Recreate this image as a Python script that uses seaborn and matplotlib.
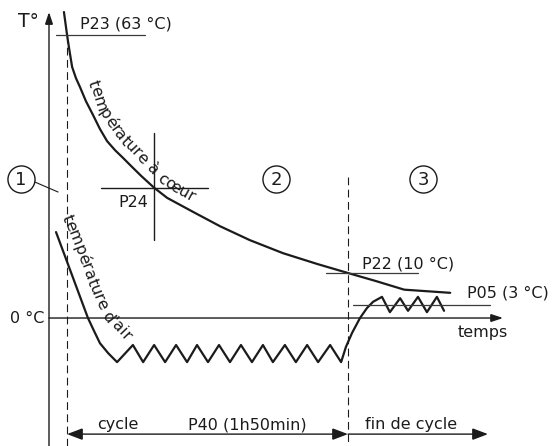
import numpy as np
import pandas as pd
import matplotlib
matplotlib.use("Agg")
import matplotlib.pyplot as plt
import seaborn as sns
from matplotlib.patches import FancyArrowPatch
from matplotlib.font_manager import FontProperties, findfont, get_font

# ---------------------------------------------------------------------------
# Data: time in minutes from the start of the cycle, temperature in °C
# ---------------------------------------------------------------------------
core_t = [-1.2, 0, 0.8, 2.0, 3.5, 5.1, 7.4, 10.2, 12.9, 15.7, 18.8, 21.9,
          24.7, 29.0, 34, 39.2, 49.3, 59.9, 71.6, 84.6, 98, 110, 121, 132, 150]
core_T = [68, 63, 60.0, 55.8, 53.3, 51.3, 48.2, 45.1, 42.0, 39.3, 37.3, 35.6,
          34.0, 31.6, 29, 26.7, 23.6, 20.4, 17.3, 14.4, 12.0, 10, 8.2, 6.3, 5.6]

air_t = [-4.3, 1.2, 6.3, 8.2, 10.6, 12.9, 16.1, 19.6,
         25.8, 29.8, 34.1, 38.4, 42.7, 47.0, 50.9, 55.2, 59.5, 63.8, 68.1,
         72.4, 76.7, 80.6, 85.3, 89.6, 94.0, 98.3, 103.0, 107.3,
         109.2, 111.6, 114.7, 117.4, 119.8, 123.3, 126.4, 130.4, 133.5,
         137.4, 140.9, 144.8, 147.6]
air_T = [19.1, 10.7, 2.9, 0, -2.9, -5.6, -7.8, -9.8,
         -6.0, -9.8, -6.0, -9.8, -6.0, -9.8, -6.0, -9.8, -6.0, -9.8, -6.0,
         -9.8, -6.0, -9.8, -6.0, -9.8, -6.0, -9.8, -6.0, -9.8,
         -6.4, -3.3, 0, 2.2, 3.6, 4.7, 1.3, 4.4, 1.6,
         4.7, 1.3, 4.7, 1.6]

cycle_len = 110            # P40 = 1h50min
p23, p22, p05 = 63, 10, 3  # setpoints in °C
p24_t, p24_T = 34, 29      # core probe point

setpoint_labels = ["P23 (63 °C)", "P22 (10 °C)", "P05 (3 °C)"]
phase_labels = ["1", "2", "3"]
span_labels = ["cycle", "P40 (1h50min)", "fin de cycle"]

# ---------------------------------------------------------------------------
sns.set_theme(style="white")
plt.rcParams["font.family"] = ["DejaVu Sans"]
INK = "#1b1b1b"
FS = 11.5

fig = plt.figure(figsize=(5.53, 4.46), dpi=100)
ax = fig.add_axes([0, 0, 1, 1])
ax.set_xlim(-26.23, 190.25)
ax.set_ylim(-28.44, 70.67)
ax.axis("off")

core = pd.DataFrame({"t": core_t, "T": core_T})
air = pd.DataFrame({"t": air_t, "T": air_T})
sns.lineplot(data=core, x="t", y="T", sort=False, estimator=None,
             color=INK, lw=1.6, ax=ax)
sns.lineplot(data=air, x="t", y="T", sort=False, estimator=None,
             color=INK, lw=1.6, ax=ax)


def arrow(p0, p1, style, lw=1.0):
    ax.add_patch(FancyArrowPatch(p0, p1, arrowstyle=style, mutation_scale=10,
                                 lw=lw, color=INK, shrinkA=0, shrinkB=0,
                                 joinstyle="miter"))


# axes with arrow heads
x_axis_t = -7.05
arrow((x_axis_t, -28.44), (x_axis_t, 68.0), "-|>,head_length=0.72,head_width=0.24")
arrow((x_axis_t, 0), (170.7, 0), "-|>,head_length=0.72,head_width=0.24")

# phase boundaries
ax.plot([0, 0], [p23, -28.44], color=INK, lw=0.8, dashes=(7, 4))
ax.plot([cycle_len, cycle_len], [31.3, -28.44], color=INK, lw=0.8, dashes=(7, 4))

# setpoint lines
ax.plot([-4.3, 30.5], [p23, p23], color="#3a3a3a", lw=0.9)
ax.plot([101.4, 137.4], [p22, p22], color="#3a3a3a", lw=0.9)
ax.plot([112, 165.6], [p05, p05], color="#3a3a3a", lw=0.9)

ax.annotate(setpoint_labels[0], (5.1, p23), xytext=(0, 6.5),
            textcoords="offset pixels", fontsize=FS, color=INK, va="baseline")
ax.annotate(setpoint_labels[1], (115.5, p22), xytext=(0, 5),
            textcoords="offset pixels", fontsize=FS, color=INK, va="baseline")
ax.annotate(setpoint_labels[2], (156.6, p05), xytext=(0, 7.5),
            textcoords="offset pixels", fontsize=FS, color=INK, va="baseline")

# P24 cross-hair
ax.plot([p24_t - 20.8, p24_t + 21.1], [p24_T, p24_T], color=INK, lw=1.0)
ax.plot([p24_t, p24_t], [p24_T - 11.7, p24_T + 12.1], color=INK, lw=1.0)
ax.text(p24_t - 2.3, p24_T - 4.3, "P24", fontsize=FS, color=INK,
        ha="right", va="baseline")

# axis texts
ax.text(-19.2, 64.7, "T°", fontsize=13.5, color=INK, ha="left", va="baseline")
ax.text(-9.0, -1.1, "0 °C", fontsize=FS, color=INK, ha="right", va="baseline")
ax.text(162.7, -4.3, "temps", fontsize=FS, color=INK, ha="center", va="baseline")

# phase markers
phase_t = [-18.0, 81.8, 139.4]
for lab, pt in zip(phase_labels, phase_t):
    ax.plot([pt], [31.0], marker="o", ms=19.5, mfc="none", mec=INK, mew=1.0)
    ax.text(pt, 29.6, lab, fontsize=13, color=INK, ha="center", va="baseline")
ax.plot([-12.5, -3.5], [30.2, 28.0], color=INK, lw=0.8)

# cycle spans along the bottom
span_T = -25.8
arrow((0, span_T), (cycle_len, span_T), "<|-|>,head_length=0.95,head_width=0.36")
arrow((cycle_len, span_T), (164.8, span_T), "-|>,head_length=0.95,head_width=0.36")
for lab, tc in zip(span_labels, [20, 70.7, 134.5]):
    ax.text(tc, -24.7, lab, fontsize=FS, color=INK, ha="center", va="baseline")


def text_on_path(s, pts_t, pts_T, size, window=6.0):
    """Lay out a string glyph by glyph along a baseline polyline."""
    disp = ax.transData.transform(np.column_stack([pts_t, pts_T]))
    seg = np.diff(disp, axis=0)
    seglen = np.hypot(seg[:, 0], seg[:, 1])
    cum = np.concatenate([[0], np.cumsum(seglen)])

    def point_at(d):
        i = int(np.clip(np.searchsorted(cum, d, side="right") - 1, 0, len(seglen) - 1))
        f = (d - cum[i]) / seglen[i]
        return disp[i] + f * seg[i]

    prop = FontProperties(family="DejaVu Sans", size=size)
    font = get_font(findfont(prop))
    font.set_size(size, fig.dpi)
    inv = ax.transData.inverted()
    pos = 0.0
    for ch in s:
        adv = font.load_char(ord(ch)).linearHoriAdvance / 65536
        mid = pos + adv / 2
        if ch != " ":
            p = point_at(mid)
            a = point_at(mid - window)
            b = point_at(mid + window)
            ang = np.degrees(np.arctan2(b[1] - a[1], b[0] - a[0]))
            xd, yd = inv.transform(p)
            ax.text(xd, yd, ch, fontsize=size, color=INK, rotation=ang,
                    rotation_mode="anchor", ha="center", va="baseline")
        pos += adv


text_on_path("température à cœur",
             [8.22, 11.74, 19.18, 27.0, 35.6, 40.7, 50.9],
             [52.4, 46.0, 40.0, 35.3, 30.4, 28.2, 25.1], FS)
text_on_path("température d'air",
             [-1.96, 11.35, 14.5, 23.9],
             [22.4, 2.9, -0.2, -5.8], FS)

fig.savefig("out.png", dpi=100)
